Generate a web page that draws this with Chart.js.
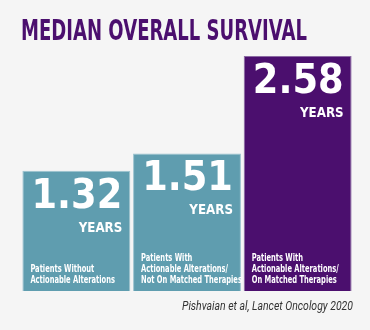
<!DOCTYPE html>
<html>
<head>
<meta charset="utf-8">
<script src="https://cdn.jsdelivr.net/npm/chart.js@4"></script>
<style>
body { margin: 0; background: #f5f5f5; }
#wrap { width: 370px; height: 330px; position: relative; }
</style>
</head>
<body>
<div id="wrap"><canvas id="osChart"></canvas></div>
<script>
const chartTitle = 'MEDIAN OVERALL SURVIVAL';
const groupLabels = [
	['Patients Without', 'Actionable Alterations'],
	['Patients With', 'Actionable Alterations/', 'Not On Matched Therapies'],
	['Patients With', 'Actionable Alterations/', 'On Matched Therapies']
];
const medianYears = [1.32, 1.51, 2.58];
const unitLabel = 'YEARS';
const sourceNote = 'Pishvaian et al, Lancet Oncology 2020';

// draw text squeezed horizontally (the original uses a condensed face)
function squeezeText(ctx, text, x, y, sx, align) {
	ctx.save();
	ctx.translate(x, y);
	ctx.scale(sx, 1);
	ctx.textAlign = align;
	ctx.fillText(text, 0, 0);
	ctx.restore();
}

const textPlugin = {
	id: 'textPlugin',
	beforeDraw(chart) {
		const ctx = chart.ctx;
		ctx.save();
		ctx.fillStyle = '#f5f5f5';
		ctx.fillRect(0, 0, chart.width, chart.height);
		ctx.restore();
	},
	afterDatasetsDraw(chart) {
		const ctx = chart.ctx;
		const bars = chart.getDatasetMeta(0).data;
		ctx.save();
		ctx.textBaseline = 'alphabetic';

		// title
		ctx.fillStyle = '#4b0f6e';
		ctx.font = 'bold 28px "DejaVu Sans"';
		let sx = 286 / ctx.measureText(chartTitle).width;
		squeezeText(ctx, chartTitle, 21, 40, sx, 'left');

		// label squeeze from the widest line
		ctx.font = 'bold 11px "DejaVu Sans"';
		const labelSx = 87 / ctx.measureText('Actionable Alterations/').width;

		ctx.fillStyle = '#ffffff';
		bars.forEach(function(bar, i) {
			const left = bar.x - bar.width / 2;
			const right = bar.x + bar.width / 2;
			ctx.font = 'bold 40px "DejaVu Sans"';
			squeezeText(ctx, medianYears[i].toFixed(2), right - 8, bar.y + 37, 0.92, 'right');
			ctx.font = 'bold 13.5px "DejaVu Sans"';
			squeezeText(ctx, unitLabel, right - 8, bar.y + 61, 0.88, 'right');

			ctx.font = 'bold 11px "DejaVu Sans"';
			const lines = groupLabels[i];
			lines.forEach(function(line, j) {
				const y = bar.base - 8 - (lines.length - 1 - j) * 11;
				squeezeText(ctx, line, left + 8, y, labelSx, 'left');
			});
		});

		// source
		ctx.fillStyle = '#333333';
		ctx.font = 'italic 12.5px Roboto';
		sx = 171 / ctx.measureText(sourceNote).width;
		squeezeText(ctx, sourceNote, 353, 310, sx, 'right');
		ctx.restore();
	}
};

const ctx = document.getElementById('osChart').getContext('2d');
const osChart = new Chart(ctx, {
	type: 'bar',
	data: {
		labels: groupLabels,
		datasets: [{
			data: medianYears,
			backgroundColor: ['#5f9daf', '#5f9daf', '#4b0f6e'],
			borderColor: ['#9cc3cf', '#9cc3cf', '#8b6aa3'],
			borderWidth: 1,
			barPercentage: 0.975,
			categoryPercentage: 1
		}]
	},
	options: {
		responsive: true,
		maintainAspectRatio: false,
		animation: false,
		layout: {
			padding: { left: 21, right: 17, top: 56, bottom: 39 }
		},
		scales: {
			x: { display: false },
			y: { display: false, min: 0, max: Math.max(...medianYears) }
		},
		plugins: {
			legend: { display: false },
			tooltip: { enabled: false }
		}
	},
	plugins: [textPlugin]
});
</script>
</body>
</html>
